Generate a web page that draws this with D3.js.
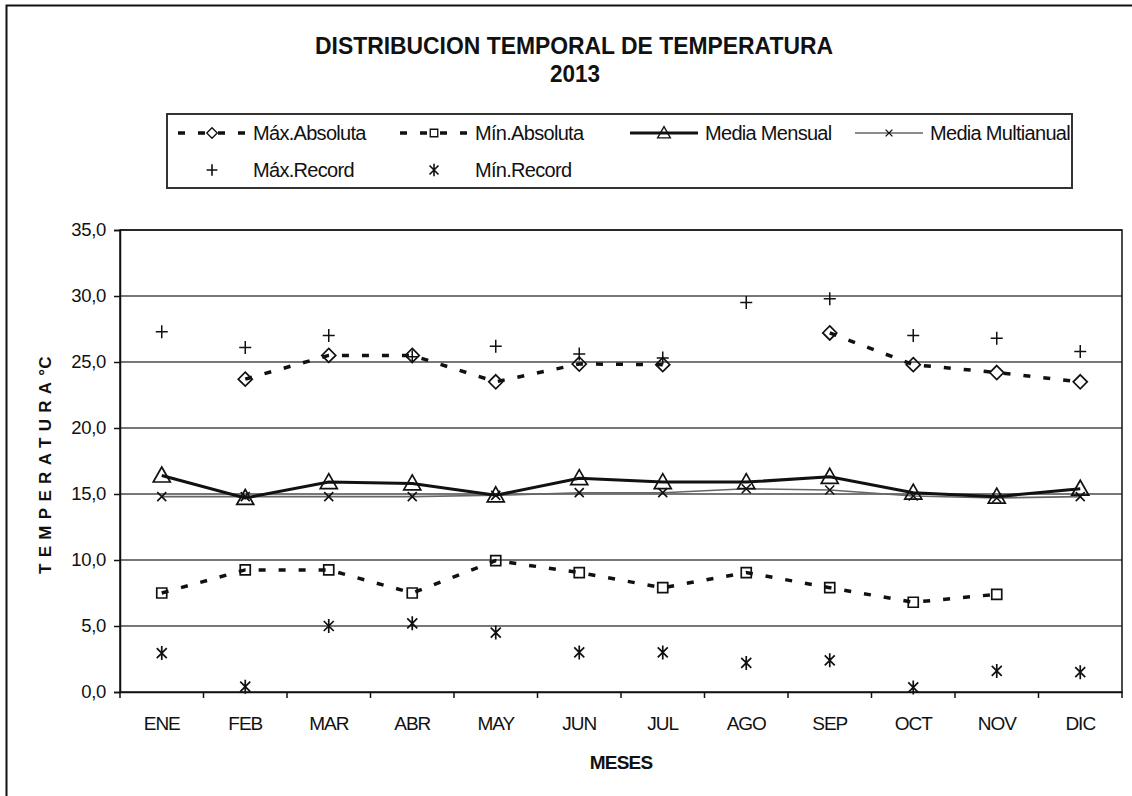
<!DOCTYPE html>
<html><head><meta charset="utf-8">
<script src="https://cdn.jsdelivr.net/npm/d3@7"></script>
<style>
body{margin:0;background:#fff;}
svg text{font-family:"Liberation Sans",Arial,sans-serif;fill:#111;}
</style></head>
<body><svg id="c" width="1132" height="796"></svg>
<script>
const months = ["ENE","FEB","MAR","ABR","MAY","JUN","JUL","AGO","SEP","OCT","NOV","DIC"];
const maxAbsoluta = [null,23.7,25.5,25.5,23.5,24.85,24.8,null,27.2,24.8,24.2,23.5];
const minAbsoluta = [7.5,9.25,9.25,7.5,9.95,9.05,7.9,9.05,7.9,6.8,7.4,null];
const mediaMensual = [16.4,14.7,15.9,15.8,14.9,16.2,15.9,15.9,16.3,15.1,14.8,15.4];
const mediaMultianual = [14.8,14.8,14.8,14.8,14.9,15.1,15.1,15.4,15.3,14.85,14.7,14.8];
const maxRecord = [27.3,26.1,27.0,25.4,26.2,25.6,25.3,29.5,29.8,27.0,26.8,25.8];
const minRecord = [2.95,0.4,5.0,5.2,4.5,3.0,3.0,2.2,2.4,0.35,1.6,1.5];
const yTicks = [0,5,10,15,20,25,30,35];

const svg = d3.select("#c");
const L=120,R=1122,T=230,B=692;
const x = d3.scaleBand().domain(months).range([L,R]);
const y = d3.scaleLinear().domain([0,35]).range([B,T]);
const fmt = v => d3.format(".1f")(v).replace(".",",");

// outer frame
svg.append("path").attr("d","M6.5,800 V5.5 H1140").attr("fill","none").attr("stroke","#111").attr("stroke-width",2);

// title
svg.append("text").attr("x",574).attr("y",54).attr("text-anchor","middle").attr("font-weight","bold")
  .attr("font-size",24).attr("textLength",518).attr("lengthAdjust","spacingAndGlyphs").text("DISTRIBUCION TEMPORAL DE TEMPERATURA");
svg.append("text").attr("x",575).attr("y",82).attr("text-anchor","middle").attr("font-weight","bold")
  .attr("font-size",24).attr("textLength",50).attr("lengthAdjust","spacingAndGlyphs").text("2013");

// gridlines
svg.append("g").selectAll("line").data(yTicks.filter(d=>d>0)).join("line")
  .attr("x1",L).attr("x2",R).attr("y1",d=>y(d)).attr("y2",d=>y(d))
  .attr("stroke","#777").attr("stroke-width",2);

// plot frame
svg.append("rect").attr("x",L).attr("y",T).attr("width",R-L).attr("height",B-T)
  .attr("fill","none").attr("stroke","#111").attr("stroke-width",1.5);

// y axis
const ya = svg.append("g").attr("transform",`translate(${L},0)`)
  .call(d3.axisLeft(y).tickValues(yTicks).tickFormat(fmt).tickSize(6).tickPadding(8));
ya.select(".domain").attr("stroke","#111").attr("stroke-width",1.5);
ya.selectAll(".tick line").attr("stroke","#111").attr("stroke-width",1.5);
ya.selectAll(".tick text").attr("font-size",18.5).attr("fill","#222").attr("letter-spacing","-0.3")
  .attr("font-family","Liberation Sans, Arial, sans-serif");

// x axis
const xa = svg.append("g").attr("transform",`translate(0,${B})`)
  .call(d3.axisBottom(x).tickSize(0).tickPadding(25));
xa.select(".domain").attr("stroke","#111").attr("stroke-width",1.5);
xa.selectAll(".tick text").attr("font-size",19).attr("fill","#222").attr("letter-spacing","-1")
  .attr("font-family","Liberation Sans, Arial, sans-serif");
// x ticks at band edges
svg.append("g").selectAll("line").data(months.concat(["_end"])).join("line")
  .attr("x1",(d,i)=>L+i*x.step()).attr("x2",(d,i)=>L+i*x.step())
  .attr("y1",B).attr("y2",B+6).attr("stroke","#111").attr("stroke-width",1.5);

// axis titles
svg.append("text").attr("x",(L+R)/2).attr("y",769).attr("text-anchor","middle").attr("font-weight","bold")
  .attr("font-size",19).attr("letter-spacing","-0.8").text("MESES");
const yt = svg.append("text").attr("transform","translate(51,574) rotate(-90)").attr("text-anchor","start")
  .attr("font-weight","bold").attr("font-size",17);
yt.append("tspan").attr("letter-spacing",6.3).text("TEMPERATURA");
yt.append("tspan").attr("dx",0).text("°C");

// series
const pts = arr => arr.map((v,i)=>({m:months[i],v}));
const line = d3.line().defined(d=>d.v!=null).x(d=>x(d.m)+x.bandwidth()/2).y(d=>y(d.v));
const cx = d => x(d.m)+x.bandwidth()/2;

const g = svg.append("g");
g.append("path").datum(pts(mediaMultianual)).attr("d",line).attr("fill","none").attr("stroke","#666").attr("stroke-width",1.6);
g.append("path").datum(pts(mediaMensual)).attr("d",line).attr("fill","none").attr("stroke","#111").attr("stroke-width",3);
g.append("path").datum(pts(maxAbsoluta)).attr("d",line).attr("fill","none").attr("stroke","#111").attr("stroke-width",3.5).attr("stroke-dasharray","7,13");
g.append("path").datum(pts(minAbsoluta)).attr("d",line).attr("fill","none").attr("stroke","#111").attr("stroke-width",3.5).attr("stroke-dasharray","7,13");

const sym = {
  diamond: "M0,-7L7,0L0,7L-7,0Z",
  square: "M-5,-5H5V5H-5Z",
  triangle: "M0,-8.5L8.5,6.5H-8.5Z",
  xmark: "M-4.5,-4.5L4.5,4.5M-4.5,4.5L4.5,-4.5",
  plus: "M-6,0H6M0,-6.5V6.5",
  star: "M0,-7V7M-5,-5L5,5M-5,5L5,-5"
};
function marks(arr, path, opts){
  g.append("g").selectAll("path").data(pts(arr).filter(d=>d.v!=null)).join("path")
    .attr("transform",d=>`translate(${cx(d)},${y(d.v)})`).attr("d",path)
    .attr("fill",opts.fill||"none").attr("stroke",opts.stroke||"#111").attr("stroke-width",opts.sw||1.5);
}
marks(mediaMultianual, sym.xmark, {sw:1.6});
marks(mediaMensual, sym.triangle, {sw:1.7});
marks(maxAbsoluta, sym.diamond, {sw:1.7});
marks(minAbsoluta, sym.square, {sw:1.7});
marks(maxRecord, sym.plus, {sw:1.5});
marks(minRecord, sym.star, {sw:1.7});

// legend
const lg = svg.append("g");
lg.append("rect").attr("x",167).attr("y",114).attr("width",905).attr("height",74)
  .attr("fill","#fff").attr("stroke","#333").attr("stroke-width",2);
const legendItems = [
  {label:"Máx.Absoluta", x:178, y:133, type:"dash", m:sym.diamond},
  {label:"Mín.Absoluta", x:400, y:133, type:"dash", m:sym.square},
  {label:"Media Mensual", x:630, y:133, type:"solid", m:sym.triangle},
  {label:"Media Multianual", x:855, y:133, type:"thin", m:sym.xmark},
  {label:"Máx.Record", x:178, y:170, type:"none", m:sym.plus},
  {label:"Mín.Record", x:400, y:170, type:"none", m:sym.star}
];
legendItems.forEach(it=>{
  const w=68, mid=it.x+w/2;
  if(it.type!=="none"){
    lg.append("line").attr("x1",it.x).attr("x2",it.x+w).attr("y1",it.y).attr("y2",it.y)
      .attr("stroke",it.type==="thin"?"#666":"#111")
      .attr("stroke-width",it.type==="thin"?1.6:(it.type==="solid"?3:3.5))
      .attr("stroke-dasharray",it.type==="dash"?"7,13":null);
  }
  const sc = it.type==="none"?0.9:0.75;
  lg.append("path").attr("transform",`translate(${mid},${it.y}) scale(${sc})`).attr("d",it.m)
    .attr("fill",it.type==="dash"?"#fff":"none").attr("stroke","#111").attr("stroke-width",1.8);
  lg.append("text").attr("x",it.x+75).attr("y",it.y+7).attr("font-size",20).attr("letter-spacing","-0.7").text(it.label);
});
</script></body></html>
